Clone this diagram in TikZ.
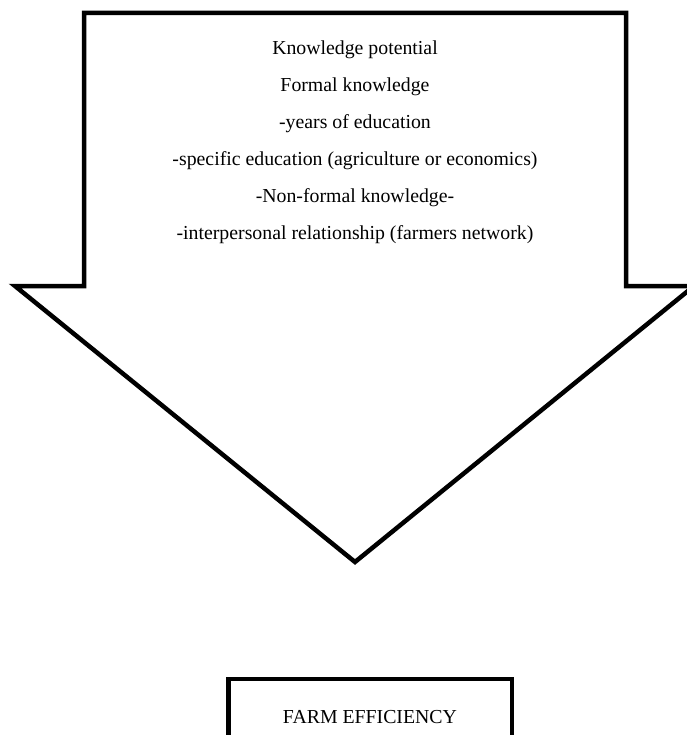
\documentclass[tikz,border=0pt]{standalone}
\usepackage{fontspec}
\setmainfont{Liberation Serif}
\begin{document}
\begin{tikzpicture}[x=1pt,y=-1pt,
  outline/.style={draw=black, line width=4.5pt, line join=miter},
  label/.style={anchor=base, inner sep=0pt, font=\fontsize{19.8}{24}\selectfont}]
\useasboundingbox (0,0) rectangle (686,735);

% block arrow pointing down
\draw[outline] (84,13) -- (626,13) -- (626,286) -- (694,286) -- (355,562)
  -- (15,286) -- (84,286) -- cycle;

% arrow contents
\node[label] (t1) at (355,55)  {Knowledge potential};
\node[label] (t2) at (355,92)  {Formal knowledge};
\node[label] (t3) at (355,129) {-years of education};
\node[label] (t4) at (355,166) {-specific education (agriculture or economics)};
\node[label] (t5) at (355,203) {-Non-formal knowledge-};
\node[label] (t6) at (355,240) {-interpersonal relationship (farmers network)};

% outcome box
\draw[outline] (228.5,790) -- (228.5,679) -- (512,679) -- (512,790);
\node[label] (farm) at (370,723) {FARM EFFICIENCY};
\end{tikzpicture}
\end{document}
